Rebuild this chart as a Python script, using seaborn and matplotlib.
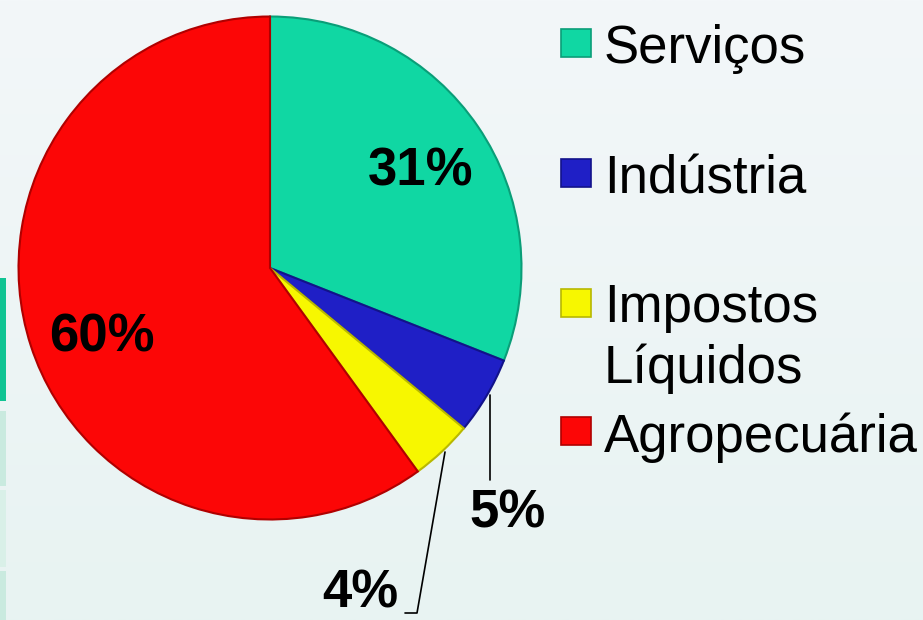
import matplotlib
matplotlib.use("Agg")
import matplotlib.pyplot as plt
import seaborn as sns
import numpy as np
from matplotlib.patches import Rectangle
from matplotlib.lines import Line2D
from matplotlib.colors import LinearSegmentedColormap

categories = ["Serviços", "Indústria", "Impostos\nLíquidos", "Agropecuária"]
values = [31, 5, 4, 60]
pct_labels = ["31%", "5%", "4%", "60%"]
colors = ["#10d7a3", "#1f1fc6", "#f7f700", "#fc0606"]
edges = ["#0a9e78", "#12128a", "#b8b800", "#b00000"]

sns.set_theme(style="white")
plt.rcParams["font.family"] = ["Liberation Sans", "DejaVu Sans"]

W, H = 923, 620
fig = plt.figure(figsize=(W / 100, H / 100), dpi=100)
fig.patch.set_facecolor("#eff5f7")

# background gradient
bg = fig.add_axes([0, 0, 1, 1], zorder=-10)
grad = np.linspace(0, 1, 256).reshape(-1, 1)
cmap = LinearSegmentedColormap.from_list("bg", ["#f3f7f9", "#e8f3f2"])
bg.imshow(grad, aspect="auto", cmap=cmap, extent=[0, 1, 0, 1], origin="upper")
bg.set_axis_off()

def fx(px):
    return px / W

def fy(py):
    return 1 - py / H

# left decorative stripes
for (y0, y1, c) in [(278, 401, "#10c493"), (411, 486, "#c9eadf"), (490, 567, "#d9f0e8"), (571, 622, "#c9eadf")]:
    fig.patches.append(Rectangle((fx(0), fy(y1)), fx(6), (y1 - y0) / H,
                                 transform=fig.transFigure, facecolor=c, edgecolor="none", zorder=-5))

# pie axes
cx, cy, r = 270, 268, 254
ax = fig.add_axes([fx(cx - r), fy(cy + r), 2 * r / W, 2 * r / H])
ax.set_facecolor("none")
wedges, _ = ax.pie(values, colors=colors, startangle=90, counterclock=False,
                   radius=1.0, wedgeprops=dict(linewidth=1.5))
for w, e in zip(wedges, edges):
    w.set_edgecolor(e)
ax.set_xlim(-1.01, 1.01)
ax.set_ylim(-1.01, 1.01)
ax.set_aspect("equal")
ax.set_axis_off()

# percentage labels (figure pixel positions)
lab_pos = {"31%": (421, 171), "5%": (508, 513), "4%": (360, 594), "60%": (102, 338)}
for t in pct_labels:
    x, y = lab_pos[t]
    fig.text(fx(x), fy(y), t, ha="center", va="center", fontsize=38,
             fontweight="bold", color="black")

# leader lines
fig.lines.append(Line2D([fx(490), fx(490)], [fy(395), fy(480)], transform=fig.transFigure,
                        color="black", linewidth=1.2))
fig.lines.append(Line2D([fx(445), fx(417), fx(405)], [fy(452), fy(613), fy(613)],
                        transform=fig.transFigure, color="black", linewidth=1.2))

# legend
sq_y = [43, 173, 303, 431]
text_base = [63, 193, 322, 452]
for i, cat in enumerate(categories):
    fig.patches.append(Rectangle((fx(561), fy(sq_y[i] + 14)), 30 / W, 28 / H,
                                 transform=fig.transFigure, facecolor=colors[i],
                                 edgecolor=edges[i], linewidth=1.2))
    lines = cat.split("\n")
    for j, ln in enumerate(lines):
        base = text_base[i] + j * 61
        fig.text(fx(604), fy(base), ln, ha="left", va="baseline", fontsize=38, color="black")

fig.savefig("out.png", dpi=100, facecolor=fig.get_facecolor())
